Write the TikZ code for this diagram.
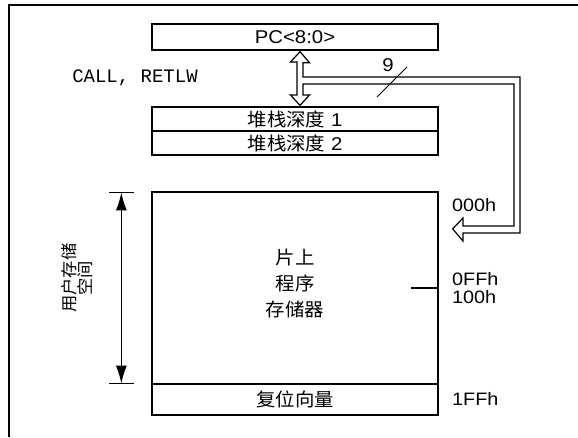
\documentclass[tikz,border=0pt]{standalone}
\usepackage{fontspec}
\setmainfont[FakeStretch=1.1]{Liberation Sans}
\newfontfamily\cjkf[FakeStretch=1.05]{Noto Sans CJK SC}
\newfontfamily\monof{Liberation Mono}
\usetikzlibrary{arrows.meta,calc}

\begin{document}
\begin{tikzpicture}[x=1pt,y=-1pt,
  cell/.style={draw,line width=1.3pt,minimum width=286pt,inner sep=0pt,
    font=\fontsize{18.5}{20}\selectfont},
  addr/.style={anchor=west,inner sep=0pt,font=\fontsize{18}{20}\selectfont},
  hollow/.style={line width=1.2pt,line join=miter},
  dimline/.style={line width=1.4pt,{Latex[length=18pt,width=11pt]}-{Latex[length=18pt,width=11pt]}}]
  \useasboundingbox (0,0) rectangle (578,437);
  \draw[line width=1.5pt] (9,437) -- (9,5) -- (578,5);
  % boxes
  \node[cell,minimum height=26pt] (pc) at (295,37) {PC<8:0>};
  \node[cell,minimum height=24pt] (stk1) at (295,119) {{\cjkf 堆栈深度} 1};
  \node[cell,minimum height=24pt] (stk2) at (295,143) {{\cjkf 堆栈深度} 2};
  \node[cell,minimum height=192pt] (mem) at (295,288) {};
  \node[cell,minimum height=31pt,font=\cjkf\fontsize{18.5}{20}\selectfont] (rst) at (295,399.5) {复位向量};
  \node[align=center,font=\cjkf\fontsize{18.5}{26}\selectfont] (memtxt) at (295,283) {片上\\程序\\存储器};
  \node[font=\monof\fontsize{19}{20}\selectfont] (call) at (135,78) {CALL, RETLW};
  % bus
  \coordinate (up) at ($(pc.south)+(5,1)$);
  \coordinate (dn) at ($(stk1.north)+(5,-1)$);
  \coordinate (in) at ($(mem.north east)+(14,37.5)$);
  \draw[hollow] (up) -- ++(9.5,11) -- ++(-6.5,0) -- (303,77) -- (520,77) -- (520,233)
    -- (463,233) -- (463,241) -- (in) -- (463,218) -- (463,226) -- (514,226) -- (514,84)
    -- (303,84) -- (303,95) -- (309.5,95) -- (dn) -- (290.5,95) -- (297,95) -- (297,62)
    -- (290.5,62) -- cycle;
  \draw[line width=0.8pt] (377,97) -- (407,67);
  \node[font=\fontsize{18.5}{20}\selectfont,inner sep=0pt] (nine) at (388,65) {9};
  % addresses
  \node[addr] (a000) at (452,205) {000h};
  \node[addr] (a0ff) at (452,279) {0FFh};
  \node[addr] (a100) at (452,297) {100h};
  \node[addr] (a1ff) at (452,399) {1FFh};
  \draw[line width=1.3pt] (mem.east) -- ++(-28,0);
  % user space
  \coordinate (dtop) at ($(mem.north west)+(-30,1)$);
  \coordinate (dbot) at ($(mem.south west)+(-30,-1)$);
  \draw[dimline] (dtop) -- (dbot);
  \draw[line width=1.3pt] ($(dtop)+(-12,0)$) -- ++(25,0);
  \draw[line width=1.3pt] ($(dbot)+(-12,0)$) -- ++(25,0);
  \node[rotate=90,align=center,font=\cjkf\fontsize{16.5}{16}\selectfont] (usr) at (77,278) {用户存储\\空间};
\end{tikzpicture}
\end{document}
